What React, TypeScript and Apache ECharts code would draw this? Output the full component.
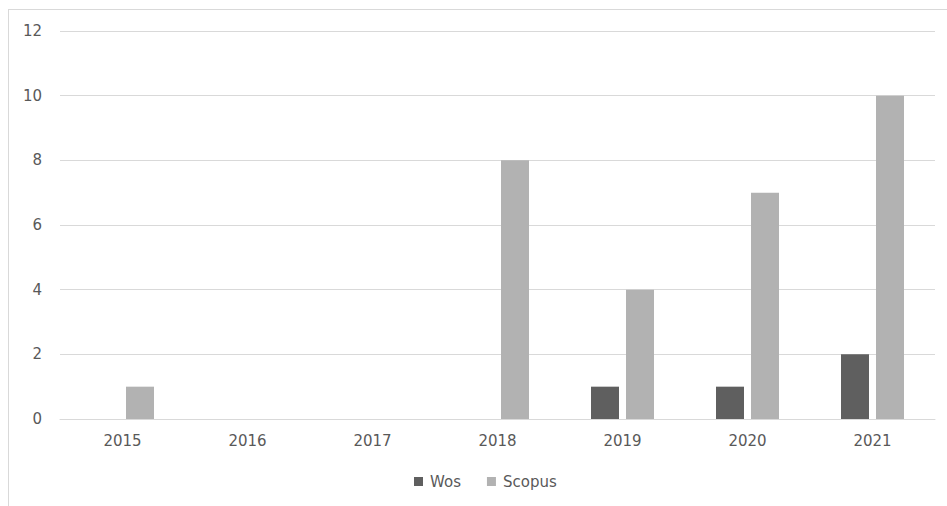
import React, { useEffect, useRef } from "react";
import * as echarts from "echarts";

const categories = ["2015", "2016", "2017", "2018", "2019", "2020", "2021"];
const wosValues = [0, 0, 0, 0, 1, 1, 2];
const scopusValues = [1, 0, 0, 8, 4, 7, 10];
const seriesNames = ["Wos", "Scopus"];

const FONT = "DejaVu Sans";

export default function App() {
  const ref = useRef<HTMLDivElement>(null);
  useEffect(() => {
    if (!ref.current) return;
    const chart = echarts.init(ref.current, undefined, { renderer: "svg" });
    chart.setOption({
      animation: false,
      backgroundColor: "#ffffff",
      graphic: [
        { type: "line", shape: { x1: 8, y1: 9.5, x2: 947, y2: 9.5 }, style: { stroke: "#d9d9d9", lineWidth: 1 } },
        { type: "line", shape: { x1: 8.5, y1: 9, x2: 8.5, y2: 506 }, style: { stroke: "#d9d9d9", lineWidth: 1 } },
      ],
      grid: { left: 60, right: 12, top: 31, bottom: 87 },
      legend: {
        data: seriesNames,
        top: 469,
        left: 409,
        itemWidth: 9,
        itemHeight: 9,
        itemGap: 26,
        icon: "rect",
        textStyle: { fontFamily: FONT, fontSize: 15, color: "#595959", padding: [0, 0, 0, 2] },
      },
      xAxis: {
        type: "category",
        data: categories,
        axisLine: { show: true, lineStyle: { color: "#d9d9d9" } },
        axisTick: { show: false },
        axisLabel: { fontFamily: FONT, fontSize: 15, color: "#595959", margin: 14 },
      },
      yAxis: {
        type: "value",
        min: 0,
        max: 12,
        interval: 2,
        axisLine: { show: false },
        axisTick: { show: false },
        splitLine: { lineStyle: { color: "#d9d9d9" } },
        axisLabel: { fontFamily: FONT, fontSize: 15, color: "#595959", margin: 18 },
      },
      series: [
        {
          name: seriesNames[0],
          type: "bar",
          data: wosValues,
          barWidth: 28,
          barGap: "25%",
          itemStyle: { color: "#5f5f5f" },
        },
        {
          name: seriesNames[1],
          type: "bar",
          data: scopusValues,
          barWidth: 28,
          barGap: "25%",
          itemStyle: { color: "#b2b2b2" },
        },
      ],
    });
    return () => chart.dispose();
  }, []);
  return (
    <div
      ref={ref}
      style={{ position: "absolute", left: 0, top: 0, width: 947, height: 506 }}
    />
  );
}
